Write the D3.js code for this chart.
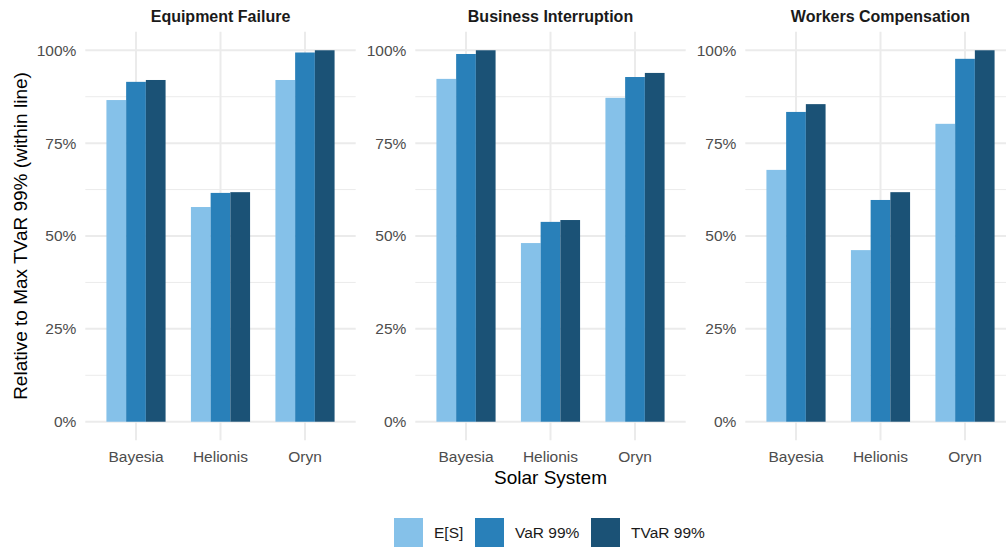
<!DOCTYPE html>
<html>
<head>
<meta charset="utf-8">
<script src="https://cdn.jsdelivr.net/npm/d3@7.9.0/dist/d3.min.js"></script>
<style>
  body { margin: 0; background: #fff; }
  svg { display: block; font-family: "Liberation Sans", Arial, sans-serif; }
</style>
</head>
<body>
<svg id="chart" width="1006" height="549"></svg>
<script>
// data
const panels = ['Equipment Failure', 'Business Interruption', 'Workers Compensation'];
const systems = ['Bayesia', 'Helionis', 'Oryn'];
const measures = ['E[S]', 'VaR 99%', 'TVaR 99%'];
const colors = ['#85C1E9', '#2980B9', '#1B5276'];
const yTicks = [0, 0.25, 0.5, 0.75, 1];
const yMinor = [0.125, 0.375, 0.625, 0.875];

// values[panel][system] = [E[S], VaR, TVaR]
const equipmentFailure = [[0.866, 0.915, 0.920], [0.578, 0.616, 0.618], [0.920, 0.994, 1.000]];
const businessInterruption = [[0.923, 0.990, 1.000], [0.481, 0.538, 0.543], [0.872, 0.928, 0.939]];
const workersCompensation = [[0.678, 0.834, 0.855], [0.462, 0.597, 0.618], [0.802, 0.977, 1.000]];
const values = [equipmentFailure, businessInterruption, workersCompensation];

const svg = d3.select('#chart');
const panelW = 270.4;
const panelLefts = [85.3, 415.3, 745.3];
const panelTop = 31.7, panelBottom = 440.3;

const y = d3.scaleLinear().domain([-0.05, 1.05]).range([panelBottom, panelTop]);
const fmt = d3.format('.0%');

panels.forEach((name, p) => {
    const x0 = panelLefts[p];
    const x = d3.scaleBand().domain(systems).range([x0, x0 + panelW])
        .paddingInner(0.3).paddingOuter(0.25);
    const xs = d3.scaleBand().domain(measures).range([0, x.bandwidth()]);
    const g = svg.append('g');

    // grid
    g.selectAll('.minor').data(yMinor).join('line')
        .attr('x1', x0).attr('x2', x0 + panelW)
        .attr('y1', d => y(d)).attr('y2', d => y(d))
        .attr('stroke', '#EBEBEB').attr('stroke-width', 1);
    g.selectAll('.major').data(yTicks).join('line')
        .attr('x1', x0).attr('x2', x0 + panelW)
        .attr('y1', d => y(d)).attr('y2', d => y(d))
        .attr('stroke', '#EBEBEB').attr('stroke-width', 2);
    g.selectAll('.vgrid').data(systems).join('line')
        .attr('x1', d => x(d) + x.bandwidth() / 2).attr('x2', d => x(d) + x.bandwidth() / 2)
        .attr('y1', panelTop).attr('y2', panelBottom)
        .attr('stroke', '#EBEBEB').attr('stroke-width', 2);

    // bars
    systems.forEach((s, i) => {
        g.selectAll(null).data(values[p][i]).join('rect')
            .attr('x', (d, j) => x(s) + xs(measures[j]))
            .attr('width', xs.bandwidth())
            .attr('y', d => y(d))
            .attr('height', d => y(0) - y(d))
            .attr('fill', (d, j) => colors[j]);
    });

    // y tick labels
    g.selectAll('.ylab').data(yTicks).join('text')
        .attr('x', x0 - 9).attr('y', d => y(d))
        .attr('dy', '0.35em').attr('text-anchor', 'end')
        .attr('font-size', 15.5).attr('fill', '#4D4D4D')
        .text(d => fmt(d));

    // x tick labels
    g.selectAll('.xlab').data(systems).join('text')
        .attr('x', d => x(d) + x.bandwidth() / 2).attr('y', 461.5)
        .attr('text-anchor', 'middle')
        .attr('font-size', 15.5).attr('fill', '#4D4D4D')
        .text(d => d);

    // strip title
    g.append('text')
        .attr('x', x0 + panelW / 2).attr('y', 21.5)
        .attr('text-anchor', 'middle')
        .attr('font-size', 16).attr('font-weight', 'bold').attr('fill', '#1A1A1A')
        .text(name);
});

// axis titles
svg.append('text')
    .attr('transform', `translate(27, ${(panelTop + panelBottom) / 2}) rotate(-90)`)
    .attr('text-anchor', 'middle').attr('font-size', 19).attr('fill', '#000')
    .text('Relative to Max TVaR 99% (within line)');
svg.append('text')
    .attr('x', (panelLefts[0] + panelLefts[2] + panelW) / 2).attr('y', 484)
    .attr('text-anchor', 'middle').attr('font-size', 19).attr('fill', '#000')
    .text('Solar System');

// legend
const legendX = [394, 475, 591];
const legend = svg.append('g');
measures.forEach((m, i) => {
    legend.append('rect')
        .attr('x', legendX[i]).attr('y', 518).attr('width', 29).attr('height', 29)
        .attr('fill', colors[i]);
    legend.append('text')
        .attr('x', legendX[i] + 40).attr('y', 532.5).attr('dy', '0.35em')
        .attr('font-size', 15.5).attr('fill', '#1A1A1A')
        .text(m);
});
</script>
</body>
</html>
